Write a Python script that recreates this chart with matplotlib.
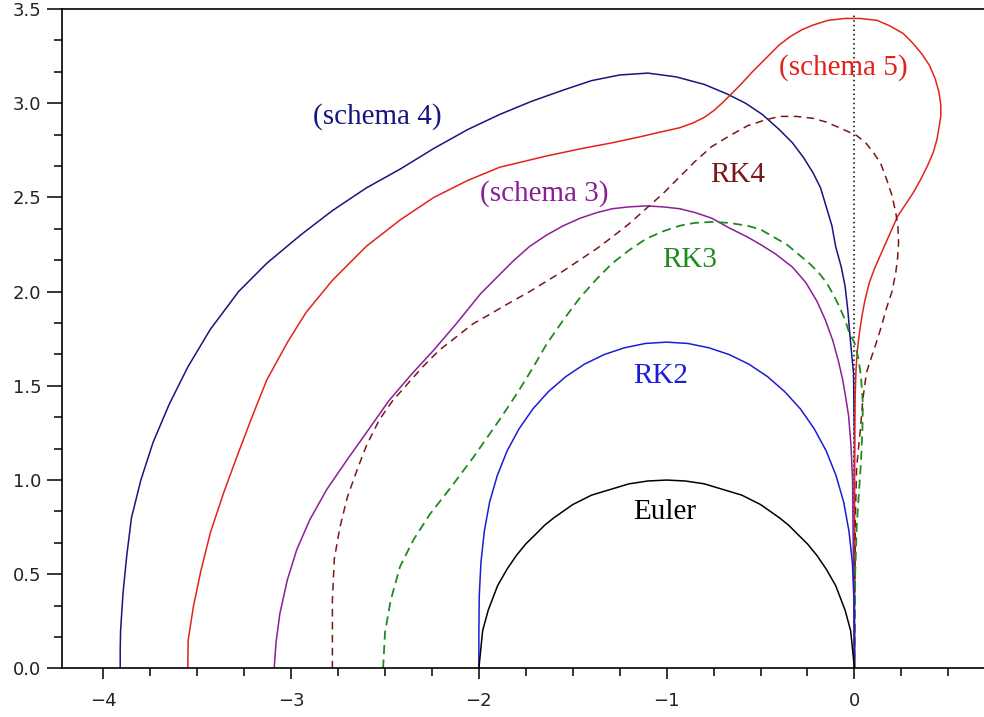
import numpy as np
import matplotlib
matplotlib.use("Agg")
import matplotlib.pyplot as plt
from matplotlib.ticker import MultipleLocator, FormatStrFormatter

# Stability region boundaries (upper half plane), z = x + i*y
euler_x = [-2.0, -1.98, -1.95, -1.9, -1.85, -1.8, -1.75, -1.7, -1.65, -1.6, -1.5, -1.4,
           -1.3, -1.2, -1.1, -1.0, -0.9, -0.8, -0.7, -0.6, -0.5, -0.4, -0.35, -0.3,
           -0.25, -0.2, -0.15, -0.1, -0.05, -0.02, 0.0]
euler_y = [0.0, 0.20, 0.31, 0.44, 0.527, 0.60, 0.661, 0.71, 0.76, 0.80, 0.87, 0.92,
           0.95, 0.98, 0.995, 1.0, 0.995, 0.98, 0.95, 0.92, 0.87, 0.80, 0.76, 0.71,
           0.661, 0.60, 0.527, 0.44, 0.31, 0.20, 0.0]

rk2_x = [-2.0, -2.0, -1.998, -1.989, -1.971, -1.943, -1.902, -1.850, -1.786, -1.712,
         -1.629, -1.537, -1.438, -1.333, -1.225, -1.113, -1.0, -0.887, -0.775, -0.667,
         -0.562, -0.463, -0.372, -0.288, -0.214, -0.150, -0.098, -0.057, -0.029, -0.011,
         -0.003, 0.0, 0.0]
rk2_y = [0.0, 0.195, 0.384, 0.562, 0.728, 0.882, 1.024, 1.154, 1.272, 1.378,
         1.470, 1.549, 1.615, 1.666, 1.702, 1.725, 1.732, 1.725, 1.702, 1.666,
         1.615, 1.549, 1.470, 1.378, 1.272, 1.154, 1.024, 0.882, 0.728, 0.562,
         0.384, 0.195, 0.0]

rk3_x = [-2.51, -2.50, -2.47, -2.42, -2.35, -2.26, -2.15, -2.03, -1.89, -1.79, -1.71,
         -1.64, -1.55, -1.46, -1.37, -1.29, -1.20, -1.11, -1.02, -0.93, -0.85, -0.76,
         -0.67, -0.57, -0.50, -0.43, -0.36, -0.30, -0.24, -0.19, -0.15, -0.11, -0.08,
         -0.05, -0.027, 0.0, 0.02, 0.035, 0.045, 0.042, 0.035, 0.025, 0.012, 0.004, 0.0]
rk3_y = [0.0, 0.19, 0.36, 0.54, 0.68, 0.82, 0.96, 1.12, 1.32, 1.47, 1.60,
         1.72, 1.85, 1.97, 2.07, 2.15, 2.22, 2.28, 2.32, 2.35, 2.365, 2.37,
         2.365, 2.35, 2.33, 2.29, 2.25, 2.20, 2.15, 2.10, 2.05, 1.98, 1.92,
         1.85, 1.78, 1.73, 1.65, 1.55, 1.40, 1.25, 1.10, 0.95, 0.75, 0.50, 0.0]

rk4_x = [-2.78, -2.78, -2.77, -2.74, -2.70, -2.65, -2.60, -2.53, -2.46, -2.38, -2.30,
         -2.21, -2.12, -2.03, -1.95, -1.89, -1.82, -1.73, -1.64, -1.55, -1.46, -1.37,
         -1.29, -1.20, -1.11, -1.02, -0.93, -0.85, -0.76, -0.66, -0.57, -0.48, -0.40,
         -0.31, -0.22, -0.15, -0.08, 0.01, 0.06, 0.10, 0.14, 0.17, 0.20, 0.22, 0.232,
         0.235, 0.23, 0.22, 0.20, 0.17, 0.145, 0.12, 0.09, 0.064, 0.045, 0.03, 0.012,
         0.005, 0.0]
rk4_y = [0.0, 0.36, 0.58, 0.75, 0.91, 1.05, 1.18, 1.32, 1.42, 1.51, 1.60,
         1.69, 1.76, 1.83, 1.875, 1.91, 1.95, 2.00, 2.055, 2.11, 2.17, 2.23,
         2.29, 2.36, 2.44, 2.52, 2.61, 2.69, 2.77, 2.83, 2.88, 2.91, 2.93,
         2.93, 2.92, 2.90, 2.87, 2.83, 2.79, 2.74, 2.68, 2.60, 2.51, 2.42, 2.34,
         2.26, 2.18, 2.10, 2.00, 1.91, 1.82, 1.74, 1.65, 1.57, 1.43, 1.25, 1.07,
         0.80, 0.0]

s3_x = [-3.09, -3.08, -3.06, -3.02, -2.97, -2.90, -2.81, -2.70, -2.60, -2.48, -2.36,
        -2.24, -2.12, -1.99, -1.89, -1.82, -1.73, -1.64, -1.55, -1.46, -1.37, -1.29,
        -1.20, -1.11, -1.02, -0.93, -0.85, -0.76, -0.67, -0.57, -0.50, -0.42, -0.33,
        -0.26, -0.20, -0.155, -0.115, -0.085, -0.062, -0.045, -0.031, -0.018, -0.01, 0.0]
s3_y = [0.0, 0.14, 0.29, 0.47, 0.63, 0.79, 0.95, 1.11, 1.25, 1.42, 1.56,
        1.69, 1.83, 1.99, 2.09, 2.16, 2.24, 2.30, 2.35, 2.39, 2.42, 2.44,
        2.45, 2.455, 2.45, 2.44, 2.42, 2.39, 2.34, 2.29, 2.25, 2.20, 2.13,
        2.05, 1.95, 1.85, 1.74, 1.63, 1.53, 1.43, 1.34, 1.18, 1.00, 0.0]

s4_x = [-3.91, -3.91, -3.908, -3.895, -3.875, -3.85, -3.80, -3.735, -3.65, -3.55, -3.43,
        -3.28, -3.13, -2.95, -2.78, -2.60, -2.42, -2.24, -2.06, -1.89, -1.72, -1.55,
        -1.40, -1.25, -1.10, -0.95, -0.80, -0.68, -0.58, -0.49, -0.40, -0.33, -0.27,
        -0.22, -0.18, -0.15, -0.12, -0.10, -0.07, -0.05, -0.035, -0.025, -0.012,
        -0.005, 0.0, 0.0]
s4_y = [0.0, 0.10, 0.20, 0.40, 0.60, 0.80, 1.00, 1.20, 1.40, 1.60, 1.80,
        2.00, 2.15, 2.30, 2.43, 2.55, 2.65, 2.76, 2.86, 2.94, 3.01, 3.07,
        3.12, 3.15, 3.16, 3.14, 3.10, 3.05, 3.00, 2.94, 2.86, 2.79, 2.71,
        2.63, 2.55, 2.45, 2.35, 2.24, 2.13, 2.03, 1.90, 1.78, 1.64,
        1.57, 1.20, 0.0]

s5_x = [-3.55, -3.548, -3.52, -3.48, -3.43, -3.36, -3.29, -3.21, -3.13, -3.02, -2.92,
        -2.78, -2.60, -2.42, -2.24, -2.06, -1.89, -1.64, -1.45, -1.29, -1.15, -1.02,
        -0.93, -0.86, -0.80, -0.75, -0.70, -0.65, -0.60, -0.55, -0.50, -0.45, -0.40,
        -0.34, -0.28, -0.22, -0.14, -0.05, 0.03, 0.12, 0.19, 0.26, 0.31, 0.36, 0.40,
        0.43, 0.45, 0.46, 0.46, 0.45, 0.44, 0.42, 0.39, 0.35, 0.31, 0.27, 0.23, 0.19,
        0.15, 0.11, 0.08, 0.055, 0.04, 0.025, 0.016, 0.008, 0.004, 0.0, 0.0]
s5_y = [0.0, 0.15, 0.33, 0.52, 0.72, 0.93, 1.12, 1.33, 1.53, 1.73, 1.89,
        2.06, 2.24, 2.38, 2.50, 2.59, 2.66, 2.72, 2.76, 2.79, 2.82, 2.85,
        2.87, 2.895, 2.925, 2.96, 3.005, 3.055, 3.105, 3.16, 3.21, 3.26, 3.31,
        3.355, 3.39, 3.415, 3.44, 3.45, 3.45, 3.44, 3.41, 3.37, 3.32, 3.26, 3.20,
        3.13, 3.06, 2.99, 2.93, 2.87, 2.81, 2.74, 2.67, 2.59, 2.52, 2.46, 2.40, 2.31,
        2.22, 2.13, 2.05, 1.95, 1.87, 1.77, 1.69, 1.58, 1.45, 1.00, 0.0]

# (name, x, y, colour, linestyle, line width, label position)
curves = [
    ("(schema 4)", s4_x, s4_y, "#16167e", "-", 1.1, (-2.54, 2.93)),
    ("(schema 5)", s5_x, s5_y, "#e3221c", "-", 1.1, (-0.06, 3.19)),
    ("(schema 3)", s3_x, s3_y, "#8a1f96", "-", 1.1, (-1.65, 2.52)),
    ("RK4", rk4_x, rk4_y, "#7a1818", (0, (5, 3.5)), 1.1, (-0.62, 2.62)),
    ("RK3", rk3_x, rk3_y, "#1f8a1f", (0, (5, 3)), 1.3, (-0.88, 2.17)),
    ("RK2", rk2_x, rk2_y, "#1c1cd6", "-", 1.1, (-1.03, 1.55)),
    ("Euler", euler_x, euler_y, "#000000", "-", 1.1, (-1.01, 0.83)),
]

fig = plt.figure(figsize=(9.84, 7.17), dpi=100)
ax = fig.add_axes([0.063, 0.0677, 0.937, 0.9197])

# imaginary axis
ax.plot([0, 0], [0, 3.47], color="black", lw=1.1, ls=(0, (1, 2)))

for name, xs, ys, col, ls, lw, (tx, ty) in curves:
    ax.plot(xs, ys, color=col, lw=lw, ls=ls)
    ax.text(tx, ty, name, color=col, fontsize=21, family="Liberation Serif",
            ha="center", va="center")

ax.set_xlim(-4.22, 0.69)
ax.set_ylim(0, 3.5)

ax.xaxis.set_major_locator(MultipleLocator(1))
ax.xaxis.set_minor_locator(MultipleLocator(0.25))
ax.yaxis.set_major_locator(MultipleLocator(0.5))
ax.yaxis.set_minor_locator(MultipleLocator(0.5 / 3))
ax.yaxis.set_major_formatter(FormatStrFormatter("%.1f"))

ax.spines["right"].set_visible(False)
for sp in ("left", "bottom", "top"):
    ax.spines[sp].set_linewidth(1.2)

ax.tick_params(axis="x", which="major", length=8, width=1.1, pad=9, labelsize=13)
ax.tick_params(axis="x", which="minor", length=6, width=1.1)
ax.tick_params(axis="y", which="major", length=11, width=1.1, pad=4, labelsize=13)
ax.tick_params(axis="y", which="minor", length=6, width=1.1)
for lab in ax.get_xticklabels() + ax.get_yticklabels():
    lab.set_color("#222222")

fig.savefig("out.png", dpi=100)
